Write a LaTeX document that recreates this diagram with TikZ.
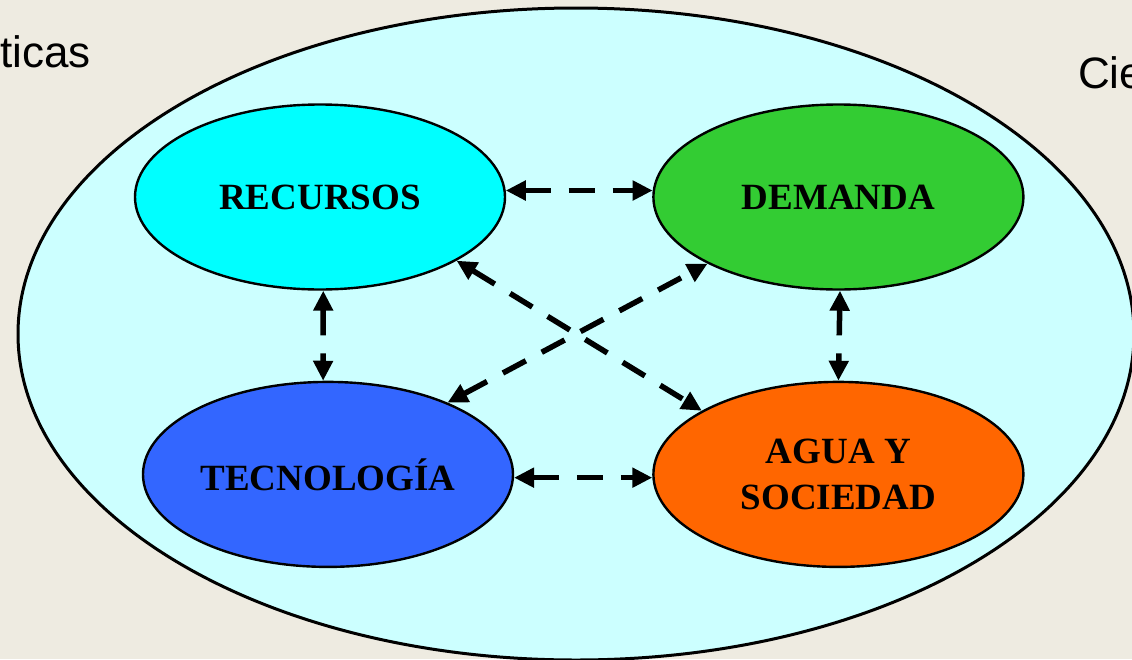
\documentclass[tikz,border=0pt]{standalone}
\usepackage{fontspec}
\setmainfont{Liberation Serif}
\newfontfamily\sidefont{Liberation Sans}
\usepackage{tikz}
\usetikzlibrary{arrows.meta, positioning, shapes.geometric}
\usepackage{xcolor}
\definecolor{paper}{HTML}{EEEBE1}
\definecolor{pool}{HTML}{CCFFFF}
\definecolor{reccyan}{HTML}{00FFFF}
\definecolor{demgreen}{HTML}{33CC33}
\definecolor{tecblue}{HTML}{3366FF}
\definecolor{aguaorange}{HTML}{FF6600}

\begin{document}
\begin{tikzpicture}[
    x=1pt, y=-1pt,
    topic/.style={draw, ellipse, line width=2.4pt, minimum width=370pt, minimum height=185pt,
        inner sep=0pt, align=center, font=\fontsize{37}{46}\selectfont\bfseries},
    link/.style={{Triangle[length=20pt,width=19pt]}-{Triangle[length=20pt,width=19pt]},
        line width=5.5pt, dash pattern=on 26pt off 18pt},
    side/.style={font=\fontsize{44}{50}\selectfont\sidefont, inner sep=0pt, anchor=base west},
    node distance=146pt
]
\useasboundingbox (0,0) rectangle (1132,659);
\fill[paper] (0,0) rectangle (1132,659);
\draw[fill=pool, line width=3pt] (576,334) ellipse [x radius=558pt, y radius=326pt];

\node[side] (mat) at (0,67) {ticas};
\node[side] (cie) at (1078,88) {Cie};

\node[topic, fill=reccyan] (rec) at (320,197) {RECURSOS};
\node[topic, fill=demgreen, right=of rec] (dem) {DEMANDA};
\node[topic, fill=tecblue, below=90pt of rec, xshift=8pt] (tec) {TECNOLOGÍA};
\node[topic, fill=aguaorange, below=90pt of dem] (agua) {AGUA Y\\SOCIEDAD};

\draw[link] (rec.2) -- (dem.178);
\draw[link] (tec.-1) -- (agua.181);
\draw[link] (rec.-88) -- (tec.93);
\draw[link] (dem.-89) -- (agua.90);
\draw[link] (rec.-25) -- (agua.155);
\draw[link] (tec.31) -- (dem.207);
\end{tikzpicture}
\end{document}
